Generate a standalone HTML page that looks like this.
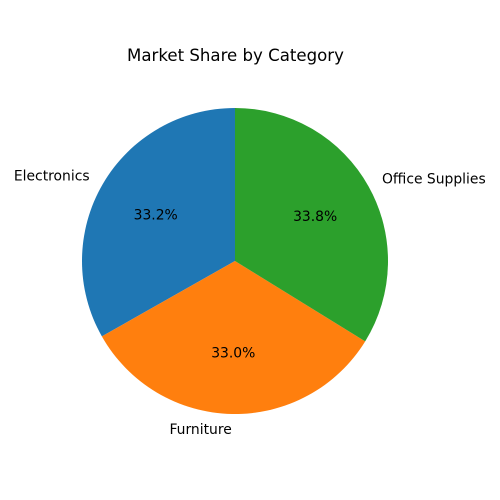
<!DOCTYPE html>
<html><head><meta charset="utf-8"><style>
html,body{margin:0;padding:0;background:#fff;}
svg{display:block;font-family:"DejaVu Sans","Liberation Sans",sans-serif;}
</style></head><body>
<svg id="chart" width="500" height="500" viewBox="0 0 500 500">
<rect width="500" height="500" fill="#fff"/>
<text x="235.5" y="61" text-anchor="middle" font-size="16.6" fill="#000">Market Share by Category</text>
<g id="slices"></g>
</svg>
<script>
const categories = ["Electronics", "Furniture", "Office Supplies"];
const shares = [33.2, 33.0, 33.8];
const colors = ["#1f77b4", "#ff7f0e", "#2ca02c"];
const cx = 235, cy = 261, r = 153, startAngle = 90;
const NS = "http://www.w3.org/2000/svg";
const g = document.getElementById("slices");
const total = shares.reduce((a, b) => a + b, 0);
function pt(deg, rad) { const a = deg * Math.PI / 180; return [cx + rad * Math.cos(a), cy - rad * Math.sin(a)]; }
let ang = startAngle;
shares.forEach((v, i) => {
  const sweep = v / total * 360;
  const a0 = ang, a1 = ang + sweep;
  const p0 = pt(a0, r), p1 = pt(a1, r);
  const large = sweep > 180 ? 1 : 0;
  const path = document.createElementNS(NS, "path");
  path.setAttribute("d", `M${cx},${cy} L${p0[0]},${p0[1]} A${r},${r} 0 ${large} 0 ${p1[0]},${p1[1]} Z`);
  path.setAttribute("fill", colors[i]);
  
  
  g.appendChild(path);
  const mid = (a0 + a1) / 2;
  const lp = pt(mid, r * 1.1);
  const lab = document.createElementNS(NS, "text");
  lab.setAttribute("x", lp[0]);
  lab.setAttribute("y", lp[1] + 4.5);
  lab.setAttribute("font-size", "13.9");
  lab.setAttribute("text-anchor", lp[0] < cx - 0.5 ? "end" : (lp[0] > cx + 0.5 ? "start" : "middle"));
  lab.textContent = categories[i];
  
  
  g.appendChild(lab);
  const pp = pt(mid, r * 0.6);
  const pct = document.createElementNS(NS, "text");
  pct.setAttribute("x", pp[0]);
  pct.setAttribute("y", pp[1] + 4.5);
  pct.setAttribute("font-size", "13.9");
  pct.setAttribute("text-anchor", "middle");
  pct.textContent = (v / total * 100).toFixed(1) + "%";
  
  
  g.appendChild(pct);
  ang = a1;
});
</script>
</body></html>
